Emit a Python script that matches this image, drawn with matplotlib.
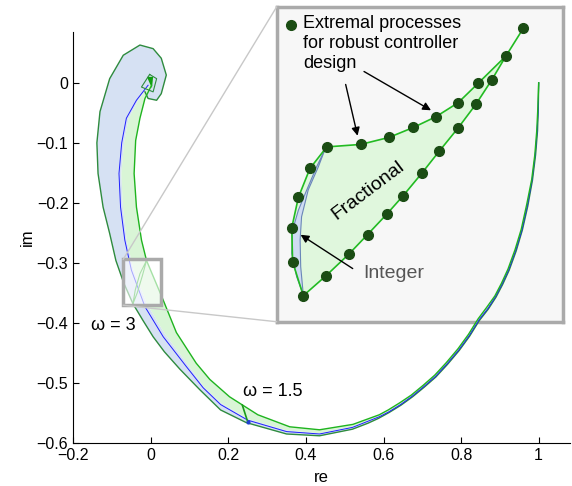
import matplotlib.pyplot as plt
from matplotlib.patches import Rectangle, ConnectionPatch

plt.rcParams['font.family'] = ['Liberation Sans', 'DejaVu Sans']

# outer edge of the integer band (from w=0 at (1,0) around to the spiral head)
outer_re = [1.0, 0.999, 0.997, 0.992, 0.984, 0.972, 0.958, 0.942, 0.924, 0.907, 0.89, 0.87, 0.847, 0.822,
            0.795, 0.765, 0.735, 0.705, 0.675, 0.645, 0.615, 0.587, 0.56, 0.52,
            0.435, 0.35, 0.246, 0.18, 0.126, 0.075, 0.035, 0.006, -0.02, -0.046, -0.07, -0.09,
            -0.106, -0.123, -0.136, -0.139, -0.131, -0.106, -0.071, -0.028, 0.006, 0.027, 0.040,
            0.027, 0.015, -0.007, -0.015]
outer_im = [0.0, -0.04, -0.08, -0.12, -0.162, -0.205, -0.245, -0.28, -0.312, -0.336, -0.357, -0.377, -0.396,
            -0.422, -0.446, -0.469, -0.49, -0.507, -0.523, -0.537, -0.549, -0.559, -0.567, -0.577,
            -0.588, -0.585, -0.566, -0.545, -0.511, -0.477, -0.448, -0.423, -0.396, -0.368, -0.333, -0.296,
            -0.251, -0.207, -0.151, -0.10, -0.048, 0.007, 0.046, 0.063, 0.057, 0.041, 0.013,
            -0.018, -0.029, -0.026, -0.015]

# nominal integer-order curve (blue)
int_re = [1.0, 0.999, 0.996, 0.991, 0.983, 0.971, 0.957, 0.941, 0.923, 0.906, 0.889, 0.869, 0.846, 0.821,
          0.794, 0.764, 0.734, 0.704, 0.674, 0.644, 0.614, 0.59, 0.52, 0.435,
          0.35, 0.25, 0.18, 0.135, 0.092, 0.032, -0.015, -0.05, -0.067, -0.078, -0.082, -0.075, -0.063,
          -0.037, -0.007]
int_im = [0.0, -0.04, -0.08, -0.12, -0.162, -0.204, -0.245, -0.279, -0.311, -0.335, -0.356, -0.376, -0.395,
          -0.421, -0.445, -0.468, -0.489, -0.506, -0.522, -0.536, -0.548, -0.556, -0.574,
          -0.585, -0.581, -0.562, -0.536, -0.508, -0.473, -0.423, -0.373, -0.312, -0.262, -0.207, -0.151,
          -0.10, -0.059, -0.029, -0.004]

# inner edge of the fractional band
frac_lo_re = [1.0, 0.999, 0.996, 0.991, 0.983, 0.971, 0.957, 0.941, 0.923, 0.906, 0.889, 0.869, 0.846, 0.821,
              0.794, 0.764, 0.734, 0.704, 0.674, 0.644, 0.614, 0.59, 0.52, 0.435,
              0.35, 0.25, 0.18, 0.135, 0.095, 0.036, -0.01, -0.045, -0.062, -0.072, -0.076, -0.069, -0.057,
              -0.032, -0.005]
frac_lo_im = [0.0, -0.04, -0.08, -0.12, -0.162, -0.204, -0.245, -0.279, -0.311, -0.335, -0.356, -0.376, -0.395,
              -0.421, -0.445, -0.468, -0.489, -0.506, -0.522, -0.536, -0.547, -0.555,
              -0.573, -0.584, -0.579, -0.56, -0.533, -0.505, -0.469, -0.418, -0.368, -0.31, -0.262, -0.207,
              -0.151, -0.10, -0.059, -0.029, -0.004]

# outer edge of the fractional band (green)
frac_hi_re = [1.0, 0.998, 0.995, 0.990, 0.982, 0.969, 0.955, 0.939, 0.921, 0.904, 0.887, 0.866, 0.844, 0.819,
              0.792, 0.762, 0.732, 0.702, 0.672, 0.642, 0.612, 0.589, 0.521, 0.435,
              0.358, 0.276, 0.203, 0.152, 0.117, 0.066, 0.032, -0.011, -0.024, -0.037, -0.043, -0.039,
              -0.028, -0.015, 0.002]
frac_hi_im = [0.0, -0.04, -0.08, -0.12, -0.161, -0.203, -0.244, -0.278, -0.310, -0.334, -0.355, -0.374, -0.393,
              -0.419, -0.443, -0.466, -0.487, -0.504, -0.520, -0.533, -0.545, -0.553,
              -0.569, -0.578, -0.573, -0.553, -0.523, -0.494, -0.467, -0.416, -0.362, -0.296, -0.262, -0.207,
              -0.151, -0.096, -0.059, -0.026, -0.004]

# value sets at single frequencies
w15_re = [0.236, 0.25]
w15_im = [-0.537, -0.565]
w3_re = [-0.011, -0.022, -0.035, -0.046, -0.040, -0.028, -0.011]
w3_im = [-0.296, -0.322, -0.350, -0.368, -0.345, -0.318, -0.296]
head_re = [-0.003, 0.015, 0.006, -0.024, -0.003]
head_im = [0.014, 0.007, -0.015, -0.007, 0.014]
tri_re = [-0.010, 0.006, 0.003]
tri_im = [0.010, 0.010, -0.009]

# zoomed region (w = 3)
zoom_x = [-0.0713, 0.0275]
zoom_y = [-0.3705, -0.2943]

# extremal processes at w = 3
ext_re = [0.0139, 0.0079, -0.0017, -0.0086, -0.0163, -0.0241, -0.0325, -0.0423, -0.0540,
          -0.0598, -0.0638, -0.0661, -0.0658, -0.0621,
          -0.0543, -0.0463, -0.0399, -0.0333, -0.0276, -0.0212, -0.0151, -0.0086, -0.0024, 0.0030]
ext_im = [-0.2995, -0.3062, -0.3128, -0.3175, -0.3209, -0.3235, -0.3259, -0.3276, -0.3282,
          -0.3334, -0.3404, -0.3478, -0.3560, -0.3642,
          -0.3594, -0.3541, -0.3494, -0.3445, -0.3400, -0.3346, -0.3292, -0.3236, -0.3178, -0.3120]

# integer value set at w = 3
lens_re = [-0.0546, -0.0575, -0.0609, -0.0638, -0.0658, -0.0661, -0.0644, -0.0621,
           -0.0630, -0.0632, -0.0627, -0.0604, -0.0569]
lens_im = [-0.3288, -0.3330, -0.3386, -0.3435, -0.3483, -0.3540, -0.3596, -0.3640,
           -0.3572, -0.3507, -0.3451, -0.3386, -0.3330]

fig = plt.figure(figsize=(5.72, 4.86), dpi=100)
ax = fig.add_axes([0.128, 0.0885, 0.868, 0.846])
axin = fig.add_axes([0.4837, 0.338, 0.5, 0.648])
axin.set_zorder(1)
ax.set_zorder(2)
ax.patch.set_visible(False)

# main nyquist bands
ax.fill(outer_re + frac_lo_re[::-1], outer_im + frac_lo_im[::-1], color='#d6e1f3', lw=0)
ax.fill(frac_lo_re + frac_hi_re[::-1], frac_lo_im + frac_hi_im[::-1], color='#d9f5d6', lw=0)
ax.plot(outer_re, outer_im, color='#2e8b3e', lw=1)
ax.plot(int_re, int_im, color='#1f1fff', lw=0.7)
ax.plot(frac_hi_re, frac_hi_im, color='#1fb41f', lw=1)
ax.plot(w15_re, w15_im, color='#1a9a1a', lw=1.2)
ax.plot(w15_re[1:], w15_im[1:], 'o', color='#1f3fcf', ms=2)
ax.plot(w3_re, w3_im, color='#30b030', lw=0.8)
ax.plot(head_re, head_im, color='#2e8b3e', lw=0.8)
ax.fill(tri_re, tri_im, color='#10a010', lw=0)

ax.add_patch(Rectangle((zoom_x[0], zoom_y[0]), zoom_x[1] - zoom_x[0], zoom_y[1] - zoom_y[0],
                       facecolor=(1, 1, 1, 0.6), edgecolor='#aaaaaa', lw=2.5, zorder=5))

ax.text(-0.153, -0.404, 'ω = 3', fontsize=13, va='center')
ax.text(0.238, -0.515, 'ω = 1.5', fontsize=13, va='center')

ax.set_xlim(-0.2, 1.08)
ax.set_ylim(-0.6, 0.085)
ax.set_xticks([-0.2, 0, 0.2, 0.4, 0.6, 0.8, 1])
ax.set_xticklabels(['\u22120.2', '0', '0.2', '0.4', '0.6', '0.8', '1'])
ax.set_yticks([-0.6, -0.5, -0.4, -0.3, -0.2, -0.1, 0])
ax.set_yticklabels(['\u22120.6', '\u22120.5', '\u22120.4', '\u22120.3', '\u22120.2', '\u22120.1', '0'])
ax.tick_params(direction='in', length=4, labelsize=11.5)
ax.spines['top'].set_visible(False)
ax.spines['right'].set_visible(False)
ax.set_xlabel('re', fontsize=12, labelpad=5)
ax.set_ylabel('im', fontsize=12, labelpad=1)

# inset
axin.set_facecolor('#f7f7f7')
for s in axin.spines.values():
    s.set_color('#aaaaaa')
    s.set_linewidth(2.5)
axin.set_xticks([])
axin.set_yticks([])
axin.set_xlim(zoom_x)
axin.set_ylim(zoom_y)

axin.fill(ext_re[1:], ext_im[1:], color='#e0f7dd', lw=0)
axin.fill(lens_re, lens_im, facecolor='#cfdcf2', edgecolor='#6a86b8', lw=0.8)
axin.plot(ext_re + ext_re[1:2], ext_im + ext_im[1:2], color='#22bb22', lw=1.2)
axin.plot(ext_re, ext_im, 'o', color='#1b4d14', ms=7, ls='none')

axin.plot([0.049], [0.942], 'o', color='#1b4d14', ms=7, transform=axin.transAxes)
axin.text(0.093, 0.975, 'Extremal processes\nfor robust controller\ndesign', transform=axin.transAxes,
          fontsize=13, va='top', linespacing=1.25)
axin.text(0.32, 0.418, 'Fractional', transform=axin.transAxes, fontsize=14, rotation=37,
          ha='center', va='center')
axin.text(0.303, 0.154, 'Integer', transform=axin.transAxes, fontsize=14, color='#555555', va='center')

arrow = dict(arrowstyle='-|>', color='black', lw=1, mutation_scale=12)
axin.annotate('', xy=(0.0755, 0.281), xytext=(0.274, 0.164), xycoords='axes fraction', arrowprops=arrow)
axin.annotate('', xy=(0.285, 0.582), xytext=(0.239, 0.762), xycoords='axes fraction', arrowprops=arrow)
axin.annotate('', xy=(0.548, 0.667), xytext=(0.297, 0.799), xycoords='axes fraction', arrowprops=arrow)

for ya, yb in [(zoom_y[1], 1), (zoom_y[0], 0)]:
    con = ConnectionPatch(xyA=(zoom_x[0], ya), coordsA=ax.transData, xyB=(0, yb), coordsB=axin.transAxes,
                          color='#c8c8c8', lw=1, zorder=3)
    fig.add_artist(con)

plt.savefig('out.png', dpi=100)
